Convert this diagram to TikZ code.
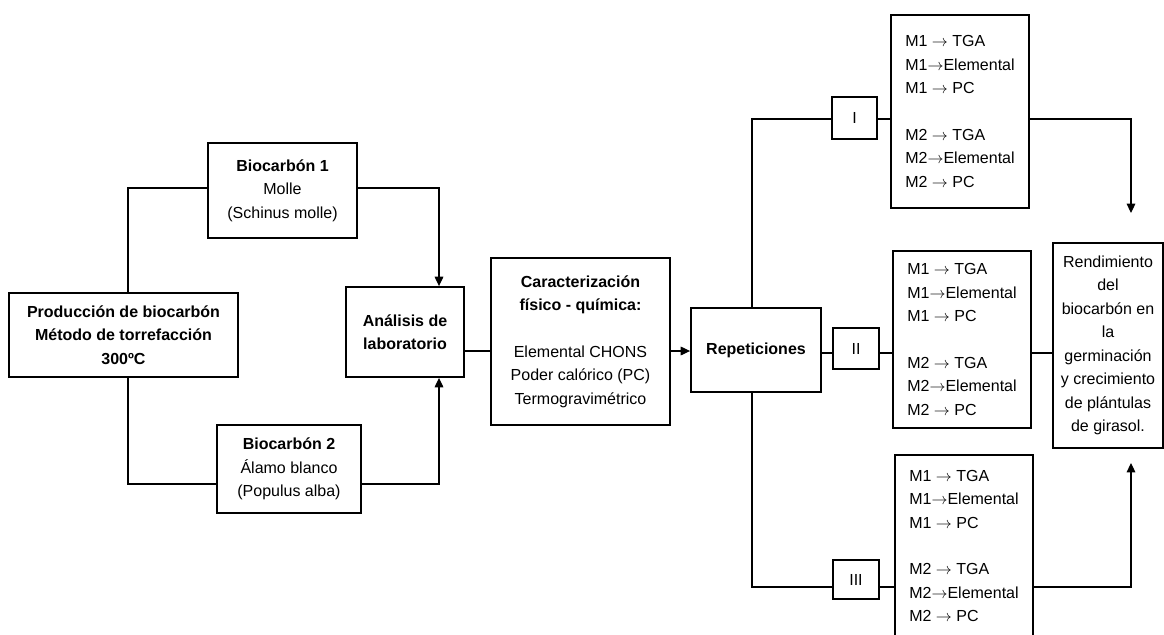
\documentclass[tikz,border=0pt]{standalone}
\usepackage{fontspec}
\setmainfont{Liberation Sans}
\usetikzlibrary{arrows.meta}
\newcommand{\ra}{\ensuremath{\rightarrow}}
\begin{document}
\begin{tikzpicture}[x=0.75pt,y=-0.75pt,
  box/.style={draw, line width=1.4pt, inner sep=0pt, align=center, font=\fontsize{12}{17.6}\selectfont},
  bbox/.style={box, font=\fontsize{12}{17.6}\selectfont\bfseries},
  mbox/.style={box, align=left},
  conn/.style={line width=0.8pt},
  arr/.style={conn, -{Triangle[length=7pt,width=6.5pt]}}]
\useasboundingbox (0,0) rectangle (1164,635);
\clip (0,0) rectangle (1164,635);

\node[bbox, minimum width=229*0.75pt, minimum height=84*0.75pt] (prod) at (123.5,335)
  {Producción de biocarbón\\Método de torrefacción\\300ºC};
\node[box, minimum width=149*0.75pt, minimum height=95*0.75pt] (b1) at (282.5,190.5)
  {\textbf{Biocarbón 1}\\Molle\\(Schinus molle)};
\node[box, minimum width=144*0.75pt, minimum height=88*0.75pt] (b2) at (289,469)
  {\textbf{Biocarbón 2}\\Álamo blanco\\(Populus alba)};
\node[bbox, minimum width=118*0.75pt, minimum height=90*0.75pt] (anal) at (405,332)
  {Análisis de\\laboratorio};
\node[box, minimum width=179*0.75pt, minimum height=167*0.75pt] (car) at (580.5,341.5)
  {\textbf{Caracterización}\\\textbf{físico - química:}\\[17.6pt]Elemental CHONS\\Poder calórico (PC)\\Termogravimétrico};
\node[bbox, minimum width=130*0.75pt, minimum height=84*0.75pt] (rep) at (756,350)
  {Repeticiones};
\node[box, minimum width=45*0.75pt, minimum height=42*0.75pt] (I) at (854.5,118) {I};
\node[box, minimum width=46*0.75pt, minimum height=41*0.75pt] (II) at (856,348.5) {II};
\node[box, minimum width=46*0.75pt, minimum height=39*0.75pt] (III) at (856,579.5) {III};

\node[mbox, minimum width=138*0.75pt, minimum height=193*0.75pt] (M1) at (960,111.5)
  {M1 \ra{} TGA\\M1\ra{}Elemental\\M1 \ra{} PC\\[17.6pt]M2 \ra{} TGA\\M2\ra{}Elemental\\M2 \ra{} PC};
\node[mbox, minimum width=138*0.75pt, minimum height=177*0.75pt] (M2) at (962,339.5)
  {M1 \ra{} TGA\\M1\ra{}Elemental\\M1 \ra{} PC\\[17.6pt]M2 \ra{} TGA\\M2\ra{}Elemental\\M2 \ra{} PC};
\node[mbox, minimum width=138*0.75pt, minimum height=182*0.75pt] (M3) at (964,546)
  {M1 \ra{} TGA\\M1\ra{}Elemental\\M1 \ra{} PC\\[17.6pt]M2 \ra{} TGA\\M2\ra{}Elemental\\M2 \ra{} PC};
\node[box, minimum width=110*0.75pt, minimum height=205*0.75pt] (rend) at (1108,345.5)
  {Rendimiento\\del\\biocarbón en\\la\\germinación\\y crecimiento\\de plántulas\\de girasol.};

\coordinate (jL) at (128,0);
\coordinate (jA) at (439,0);
\coordinate (jR) at (752,0);
\coordinate (yb1) at (0,188);
\coordinate (yb2) at (0,484);
\coordinate (yc) at (0,351);
\coordinate (yI) at (0,119);
\coordinate (yII) at (0,353);
\coordinate (yIII) at (0,587);
\coordinate (t1) at (1131,213);
\coordinate (t3) at (1131,463);

\draw[conn] (prod.north -| jL) |- (b1.west |- yb1);
\draw[arr] (b1.east |- yb1) -| (anal.north -| jA);
\draw[conn] (prod.south -| jL) |- (b2.west |- yb2);
\draw[arr] (b2.east |- yb2) -| (anal.south -| jA);
\draw[conn] (anal.east |- yc) -- (car.west |- yc);
\draw[arr] (car.east |- yc) -- (rep.west |- yc);
\draw[conn] (rep.north -| jR) |- (I.west |- yI);
\draw[conn] (I.east |- yI) -- (M1.west |- yI);
\draw[conn] (rep.east |- yII) -- (II.west |- yII);
\draw[conn] (II.east |- yII) -- (M2.west |- yII);
\draw[conn] (rep.south -| jR) |- (III.west |- yIII);
\draw[conn] (III.east |- yIII) -- (M3.west |- yIII);
\draw[arr] (M1.east |- yI) -| (t1);
\draw[conn] (M2.east |- yII) -- (rend.west |- yII);
\draw[arr] (M3.east |- yIII) -| (t3);
\end{tikzpicture}
\end{document}
